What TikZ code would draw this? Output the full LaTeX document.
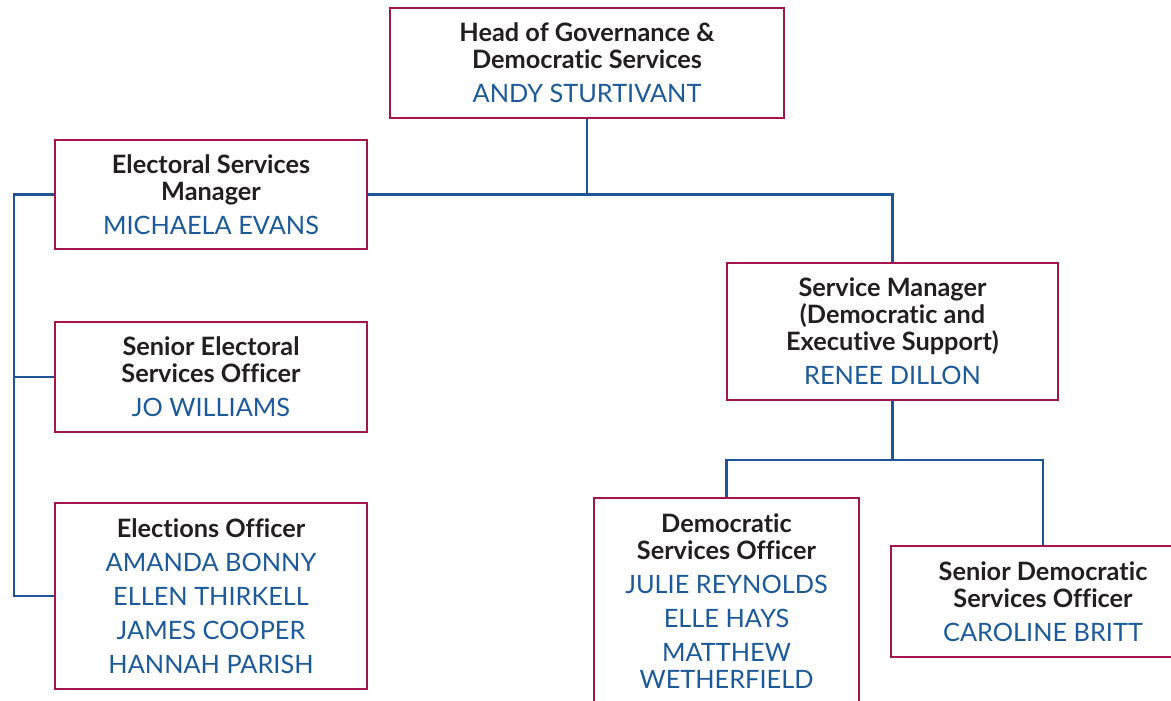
\documentclass[tikz,border=0pt]{standalone}
\usepackage{fontspec}
\setmainfont{Lato}[Ligatures=NoCommon]
\usepackage{tikz}

\definecolor{boxred}{HTML}{A3154C}
\definecolor{lineblue}{HTML}{1F5597}
\definecolor{nameblue}{HTML}{1D5A9B}
\definecolor{titlegrey}{HTML}{231F20}

\newcommand{\rolefont}{\bfseries\color{titlegrey}}
\newcommand{\namefont}{\mdseries\color{nameblue}}

\tikzset{
	post/.style={draw=boxred, line width=1.6pt, fill=white, align=center,
		inner sep=0pt, font=\fontsize{18}{19.2}\selectfont},
	link/.style={draw=lineblue, line width=1.6pt}
}

\begin{document}
\begin{tikzpicture}[x=0.025cm,y=-0.025cm]
	%frame
	\useasboundingbox (0,0) rectangle (1171,701);
	\clip (0,0) rectangle (1171,701);
	%posts
	\node[post, minimum width=9.83cm, minimum height=2.75cm] (head) at (587,63) {\rolefont Head of Governance \&\\\rolefont Democratic Services\\[5pt]\namefont ANDY STURTIVANT};
	\node[post, minimum width=7.8cm, minimum height=2.73cm] (esm) at (211,194.5) {\rolefont Electoral Services\\\rolefont Manager\\[5pt]\namefont MICHAELA EVANS};
	\node[post, minimum width=7.8cm, minimum height=2.75cm] (seso) at (211,377) {\rolefont Senior Electoral\\\rolefont Services Officer\\[5pt]\namefont JO WILLIAMS};
	\node[post, minimum width=7.8cm, minimum height=4.65cm] (eo) at (211,596) {\rolefont Elections Officer\\[5pt]\namefont AMANDA BONNY\\[5pt]\namefont ELLEN THIRKELL\\[5pt]\namefont JAMES COOPER\\[5pt]\namefont HANNAH PARISH};
	\node[post, minimum width=8.28cm, minimum height=3.43cm] (sm) at (892.5,331.5) {\rolefont Service Manager\\\rolefont (Democratic and\\\rolefont Executive Support)\\[5pt]\namefont RENEE DILLON};
	\node[post, minimum width=6.63cm, minimum height=5.15cm] (dso) at (726.5,601) {\rolefont Democratic\\\rolefont Services Officer\\[5pt]\namefont JULIE REYNOLDS\\[5pt]\namefont ELLE HAYS\\[5pt]\namefont MATTHEW\\\namefont WETHERFIELD};
	\node[post, minimum width=7.6cm, minimum height=2.78cm] (sdso) at (1043,601.5) {\rolefont Senior Democratic\\\rolefont Services Officer\\[5pt]\namefont CAROLINE BRITT};
	%joints
	\coordinate (lbus) at (14,596);
	\coordinate (rbus) at (890,460);
	%links
	\draw[link] (head.south) -- (head.south |- esm.east);
	\draw[link] (esm.east) -| (sm.north);
	\draw[link] (esm.west) -| (lbus) -- (eo.west);
	\draw[link] (seso.west) -- (seso.west -| lbus);
	\draw[link] (sm.south) -- (sm.south |- rbus);
	\draw[link] (dso.north) |- (rbus) -| (sdso.north);
\end{tikzpicture}
\end{document}
